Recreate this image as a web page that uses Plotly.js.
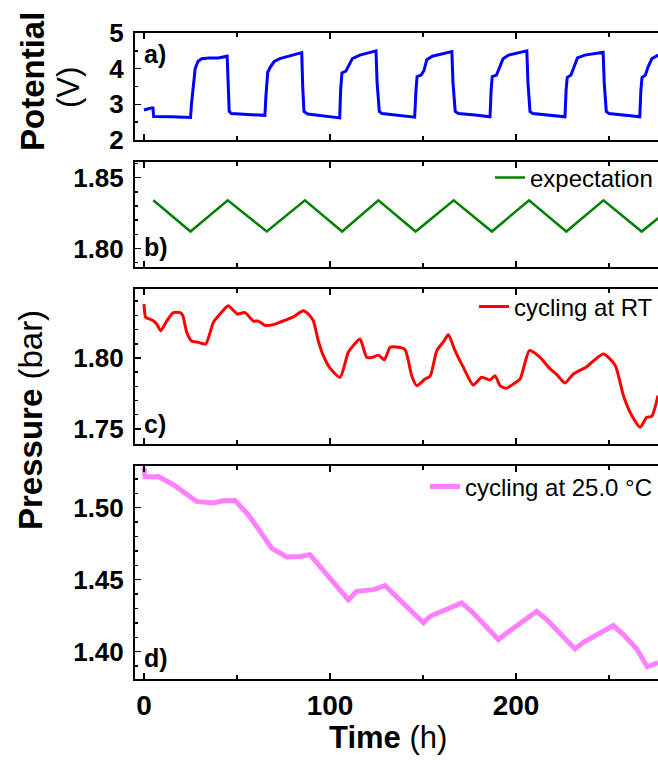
<!DOCTYPE html>
<html>
<head>
<meta charset="utf-8">
<script src="https://cdn.plot.ly/plotly-3.0.1.min.js"></script>
<style>html,body{margin:0;padding:0;background:#fff;}#chart{width:658px;height:760px;}</style>
</head>
<body>
<div id="chart"></div>
<script>
// ---- Panel a: potential (V) vs time (h)
const timeA = [0, 2, 4, 4.8, 5.2, 15, 25, 25.5, 26.5, 27.5, 29, 31, 35, 40, 44.7, 45.2, 45.8, 47, 55, 65,
  65.5, 66.5, 68, 70, 73, 78, 84.8, 85.3, 86, 88, 95, 105.2,
  105.7, 106.4, 108.5, 110, 112, 116, 124.7, 125.3, 126.5, 128, 135, 145.5,
  146.2, 146.8, 149, 150.5, 152, 155, 165.5, 166.1, 167.3, 169, 178, 186,
  186.6, 187.2, 189.5, 191, 193, 196, 205.8, 206.4, 207.5, 209, 218, 226.3,
  226.9, 227.5, 229.5, 231, 233, 237, 246.8, 247.4, 248.5, 250, 258, 266.5,
  267.1, 267.7, 269.5, 271, 273, 276.5];
const potentialA = [2.84, 2.88, 2.9, 2.9, 2.66, 2.65, 2.63, 3.0, 3.6, 4.0, 4.2, 4.28, 4.3, 4.3, 4.35, 3.5, 2.8, 2.74, 2.71, 2.69,
  3.2, 3.9, 4.05, 4.2, 4.28, 4.35, 4.45, 3.5, 2.8, 2.73, 2.69, 2.62,
  3.4, 3.88, 3.93, 4.1, 4.28, 4.38, 4.5, 3.6, 2.8, 2.74, 2.7, 2.64,
  3.4, 3.78, 3.82, 3.95, 4.25, 4.35, 4.48, 3.6, 2.8, 2.74, 2.7, 2.65,
  3.4, 3.78, 3.82, 4.0, 4.28, 4.38, 4.5, 3.6, 2.8, 2.74, 2.7, 2.65,
  3.4, 3.75, 3.82, 4.05, 4.3, 4.38, 4.46, 3.6, 2.8, 2.74, 2.7, 2.65,
  3.4, 3.75, 3.82, 4.05, 4.28, 4.38];

// ---- Panel b: expectation (bar)
const timeB = [5, 25, 45, 66, 86.5, 106.5, 126, 146, 166.5, 187, 207, 227, 247, 267.5, 276.5];
const expectB = [1.834, 1.812, 1.834, 1.812, 1.834, 1.812, 1.834, 1.812, 1.834, 1.812, 1.834, 1.812, 1.834, 1.812, 1.8215];

// ---- Panel c: cycling at RT (bar)
const timeC = [0, 0.9, 3, 5, 6.8, 9, 12.2, 15.8, 19.4, 20.8, 23, 25.6, 29.2, 33.2, 37.3, 40.9, 45.3, 50.2, 54.3, 58.8,
  61.5, 65, 69.5, 76.7, 80.3, 85.6, 88.3, 91, 93.7, 96.4, 100, 105.4, 109.8, 112.5, 116.1, 119.7, 122.4, 126, 129.2,
  132.3, 135.8, 140.3, 143.9, 146.6, 151.1, 153.8, 157.4, 161, 163.6, 167.2, 171.7, 177, 181.5, 186, 188.7, 191.4,
  194.6, 198.6, 202.2, 207.2, 212.9, 218.3, 221.9, 226.3, 230.8, 238, 246.9, 253.2, 257.7, 261.3, 266.7, 270.3, 272.9, 276.3];
const pressureC = [1.838, 1.8287, 1.8275, 1.8263, 1.824, 1.8192, 1.826, 1.832, 1.832, 1.830, 1.818, 1.812, 1.811, 1.8099, 1.8251, 1.831, 1.8368, 1.831, 1.832, 1.826,
  1.826, 1.823, 1.8235, 1.827, 1.829, 1.8333, 1.831, 1.8263, 1.812, 1.8016, 1.7928, 1.7864, 1.804, 1.8087, 1.8134, 1.8005, 1.8003, 1.802, 1.7988,
  1.8075, 1.8077, 1.806, 1.7875, 1.7805, 1.7852, 1.7871, 1.8052, 1.8115, 1.8164, 1.8052, 1.7934, 1.781, 1.7864, 1.7845, 1.7875, 1.7805,
  1.7786, 1.7817, 1.7852, 1.8052, 1.8005, 1.7923, 1.7883, 1.7824, 1.7887, 1.7939, 1.8028, 1.7951, 1.7735, 1.7617, 1.7512, 1.7582, 1.7588, 1.7735];

// ---- Panel d: cycling at 25.0 °C (bar)
const timeD = [0, 0.5, 5, 7.7, 15.8, 21.1, 28.3, 37.3, 42.6, 48.9, 56.1, 62.4, 68.6, 76.7, 83.9, 89.2, 94.6, 100,
  109.8, 114.3, 123.3, 129.6, 137.6, 150.2, 153.8, 170.8, 177, 190.5, 195, 211, 216.5, 231.7, 236.2, 252.3, 257.7, 264.9, 270.5, 276.3];
const pressureD = [1.5276, 1.5217, 1.5213, 1.5217, 1.516, 1.5113, 1.5044, 1.5033, 1.5049, 1.5051, 1.4951, 1.4836, 1.472, 1.4658, 1.4662, 1.4674, 1.4593, 1.452,
  1.4361, 1.4419, 1.4431, 1.4459, 1.4361, 1.42, 1.4246, 1.4339, 1.4269, 1.4084, 1.413, 1.428, 1.4223, 1.4019, 1.4065, 1.4181, 1.4119, 1.4019, 1.3895, 1.3924];

const panelLabels = ['a)', 'b)', 'c)', 'd)'];
const legendNames = ['expectation', 'cycling at RT', 'cycling at 25.0 °C'];

const FONT = 'Liberation Sans, Arial, sans-serif';

const traces = [
  {x: timeA, y: potentialA, xaxis: 'x4', yaxis: 'y4', mode: 'lines', line: {color: '#0000FF', width: 3}, showlegend: false},
  {x: timeB, y: expectB, xaxis: 'x3', yaxis: 'y3', mode: 'lines', name: legendNames[0], line: {color: '#008000', width: 2.5}, legend: 'legend'},
  {x: timeC, y: pressureC, xaxis: 'x2', yaxis: 'y2', mode: 'lines', name: legendNames[1], line: {color: '#FF0000', width: 3, shape: 'spline', smoothing: 0.6}, legend: 'legend2'},
  {x: timeD, y: pressureD, xaxis: 'x', yaxis: 'y', mode: 'lines', name: legendNames[2], line: {color: '#FF80FF', width: 5}, legend: 'legend3'}
];

function xax(anchor, labels) {
  return {
    anchor: anchor, range: [-4.84, 276.3], showline: true, linecolor: 'black', linewidth: 2,
    mirror: 'allticks', ticks: 'inside', ticklen: 6, tickwidth: 1.5, tickcolor: 'black',
    tick0: 0, dtick: 100, showgrid: false, zeroline: false, showticklabels: labels,
    tickfont: {family: FONT, size: 28, color: 'black', weight: 'bold'},
    minor: {dtick: 50, ticklen: 4, tickwidth: 1.5, tickcolor: 'black', ticks: 'inside', showgrid: false},
    matches: anchor === 'y' ? undefined : 'x'
  };
}
function yax(domain, range, dtick, minor, fmt, anchor) {
  return {
    anchor: anchor, domain: domain, range: range, showline: true, linecolor: 'black', linewidth: 2,
    ticks: 'inside', ticklen: 6, tickwidth: 1.5, tickcolor: 'black', dtick: dtick, tick0: 0,
    tickformat: fmt, showgrid: false, zeroline: false, ticklabelstandoff: 4,
    tickfont: {family: FONT, size: 26, color: 'black', weight: 'bold'},
    minor: {dtick: minor, ticklen: 3, tickwidth: 1.5, tickcolor: 'black', ticks: 'inside', showgrid: false}
  };
}

function pxX(px) { return (px - 135) / 523; }
function pxY(py) { return (679 - py) / 646; }

const legendBase = {xanchor: 'right', x: 1.0, yanchor: 'middle', bgcolor: 'rgba(0,0,0,0)', borderwidth: 0,
  font: {family: FONT, size: 24, color: 'black'}, itemwidth: 30, tracegroupgap: 0};

const annotations = [];
const labelY = [54, 247, 424, 658];
panelLabels.forEach((t, i) => annotations.push({
  xref: 'paper', yref: 'paper', x: pxX(142), y: pxY(labelY[i]), xanchor: 'left', yanchor: 'middle',
  text: t, showarrow: false, font: {family: FONT, size: 25, color: 'black', weight: 'bold'}
}));
annotations.push({xref: 'paper', yref: 'paper', x: pxX(32), y: pxY(82), textangle: -90, xanchor: 'center', yanchor: 'middle',
  text: '<b>Potential</b>', showarrow: false, font: {family: FONT, size: 33, color: 'black'}});
annotations.push({xref: 'paper', yref: 'paper', x: pxX(68), y: pxY(88), textangle: -90, xanchor: 'center', yanchor: 'middle',
  text: '(V)', showarrow: false, font: {family: FONT, size: 31, color: 'black'}});
annotations.push({xref: 'paper', yref: 'paper', x: pxX(30), y: pxY(420), textangle: -90, xanchor: 'center', yanchor: 'middle',
  text: '<b>Pressure</b> (bar)', showarrow: false, font: {family: FONT, size: 33, color: 'black'}});
annotations.push({xref: 'paper', yref: 'paper', x: pxX(388), y: pxY(737), xanchor: 'center', yanchor: 'middle',
  text: '<b>Time</b> (h)', showarrow: false, font: {family: FONT, size: 31, color: 'black'}});

const layout = {
  width: 658, height: 760,
  margin: {l: 135, r: 0, t: 33, b: 81, pad: 0},
  paper_bgcolor: 'white', plot_bgcolor: 'white',
  font: {family: FONT, color: 'black'},
  xaxis: xax('y', true),
  xaxis2: xax('y2', false),
  xaxis3: xax('y3', false),
  xaxis4: xax('y4', false),
  yaxis: yax([0, 0.3297], [1.381, 1.529], 0.05, 0.01, '.2f', 'x'),
  yaxis2: yax([0.3638, 0.6037], [1.7394, 1.8486], 0.05, 0.01, '.2f', 'x2'),
  yaxis3: yax([0.6378, 0.8003], [1.787, 1.861], 0.05, 0.01, '.2f', 'x3'),
  yaxis4: yax([0.8344, 1], [2, 5], 1, 0.5, 'd', 'x4'),
  legend: Object.assign({}, legendBase, {y: pxY(178)}),
  legend2: Object.assign({}, legendBase, {y: pxY(307)}),
  legend3: Object.assign({}, legendBase, {y: pxY(487)}),
  annotations: annotations,
  showlegend: true
};

Plotly.newPlot('chart', traces, layout, {displayModeBar: false, staticPlot: true});
</script>
</body>
</html>
